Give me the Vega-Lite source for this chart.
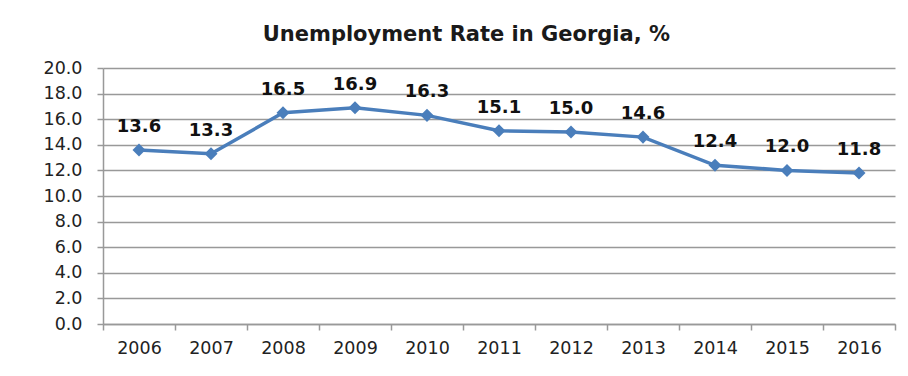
{
  "$schema": "https://vega.github.io/schema/vega-lite/v6.json",
  "width": 792,
  "height": 256,
  "autosize": {"type": "none"},
  "padding": {"left": 103, "top": 68, "right": 13, "bottom": 52},
  "background": "white",
  "title": {
    "text": "Unemployment Rate in Georgia, %",
    "font": "DejaVu Sans",
    "fontSize": 21,
    "fontWeight": "bold",
    "color": "#1a1a1a",
    "anchor": "middle",
    "frame": "bounds",
    "offset": 14,
    "dx": -3
  },
  "config": {
    "view": {"stroke": null},
    "axis": {
      "labelFont": "DejaVu Sans",
      "labelFontSize": 17.5,
      "labelColor": "#222222",
      "domainColor": "#999999",
      "domainWidth": 1.5,
      "tickColor": "#999999",
      "tickWidth": 1.5,
      "gridColor": "#999999",
      "gridWidth": 1.5
    }
  },
  "data": {
    "values": [
      {"year": "2006", "rate": 13.6},
      {"year": "2007", "rate": 13.3},
      {"year": "2008", "rate": 16.5},
      {"year": "2009", "rate": 16.9},
      {"year": "2010", "rate": 16.3},
      {"year": "2011", "rate": 15.1},
      {"year": "2012", "rate": 15.0},
      {"year": "2013", "rate": 14.6},
      {"year": "2014", "rate": 12.4},
      {"year": "2015", "rate": 12.0},
      {"year": "2016", "rate": 11.8}
    ]
  },
  "encoding": {
    "x": {
      "field": "year",
      "type": "ordinal",
      "scale": {"type": "band", "paddingInner": 0, "paddingOuter": 0},
      "axis": {
        "title": null,
        "labelAngle": 0,
        "tickBand": "extent",
        "tickSize": 6,
        "labelPadding": 9,
        "grid": false
      }
    },
    "y": {
      "field": "rate",
      "type": "quantitative",
      "scale": {"domain": [0, 20]},
      "axis": {
        "title": null,
        "values": [0, 2, 4, 6, 8, 10, 12, 14, 16, 18, 20],
        "format": ".1f",
        "tickSize": 6,
        "labelPadding": 15,
        "grid": true
      }
    }
  },
  "layer": [
    {
      "mark": {"type": "line", "color": "#4a7ebb", "strokeWidth": 3.5}
    },
    {
      "mark": {"type": "point", "shape": "diamond", "filled": true, "color": "#4a7ebb", "size": 170, "opacity": 1}
    },
    {
      "mark": {"type": "text", "font": "DejaVu Sans", "fontWeight": "bold", "fontSize": 18, "color": "#111111", "dy": -23},
      "encoding": {"text": {"field": "rate", "type": "quantitative", "format": ".1f"}}
    }
  ]
}
